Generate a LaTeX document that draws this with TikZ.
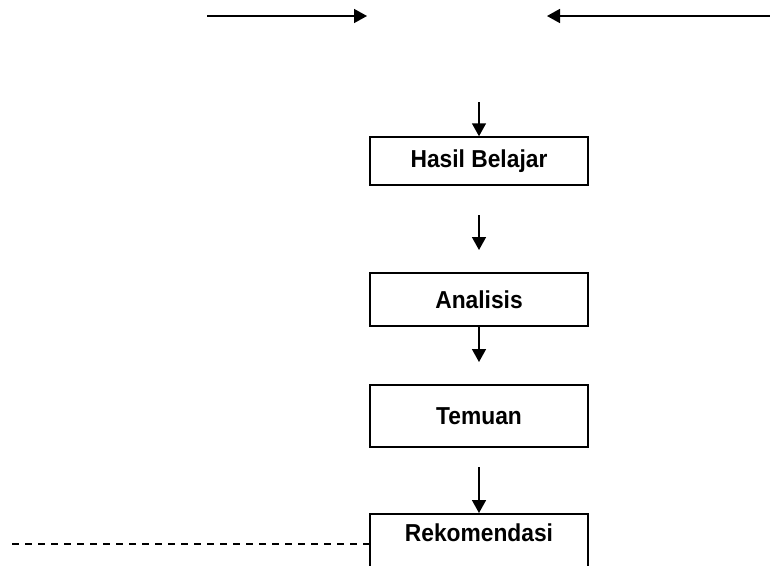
\documentclass[tikz,border=0pt]{standalone}
\usepackage{fontspec}
\setmainfont{Liberation Sans}[FakeStretch=0.93]
\usetikzlibrary{arrows.meta}
\begin{document}
\begin{tikzpicture}[x=1pt,y=-1pt,
  line width=1.6pt,
  arr/.style={-{Triangle[length=13pt,width=14pt]}},
  stepbox/.style={draw,line width=1.5pt,minimum width=218pt,inner sep=0pt,font=\bfseries\fontsize{24.5}{27}\selectfont}]
\useasboundingbox (0,0) rectangle (770,565);
\clip (0,0) rectangle (770,565);
% boxes
\node[stepbox,minimum height=48pt] (hasil) at (479,161) {Hasil Belajar};
\node[stepbox,minimum height=53pt] (analisis) at (479,299.5) {Analisis};
\node[stepbox,minimum height=62pt] (temuan) at (479,416) {Temuan};
\node[stepbox,anchor=north,text height=28pt,text depth=60pt] (rek) at (479,513) {Rekomendasi};
% free ends
\coordinate (l1) at (207,16);
\coordinate (l2) at (367,16);
\coordinate (r1) at (772,16);
\coordinate (r2) at (547,16);
\coordinate (v1) at (479,102);
\coordinate (v2a) at (479,215);
\coordinate (v2b) at (479,250);
\coordinate (v3) at (479,362);
\coordinate (v4) at (479,467);
\coordinate (d1) at (12,544);
% connectors
\draw[arr] (l1) -- (l2);
\draw[arr] (r1) -- (r2);
\draw[arr] (v1) -- (hasil.north);
\draw[arr] (v2a) -- (v2b);
\draw[arr] (analisis.south) -- (v3);
\draw[arr] (v4) -- (rek.north);
\draw[line width=1.8pt,dash pattern=on 7pt off 6pt] (d1) -- (d1 -| rek.west);
\end{tikzpicture}
\end{document}
